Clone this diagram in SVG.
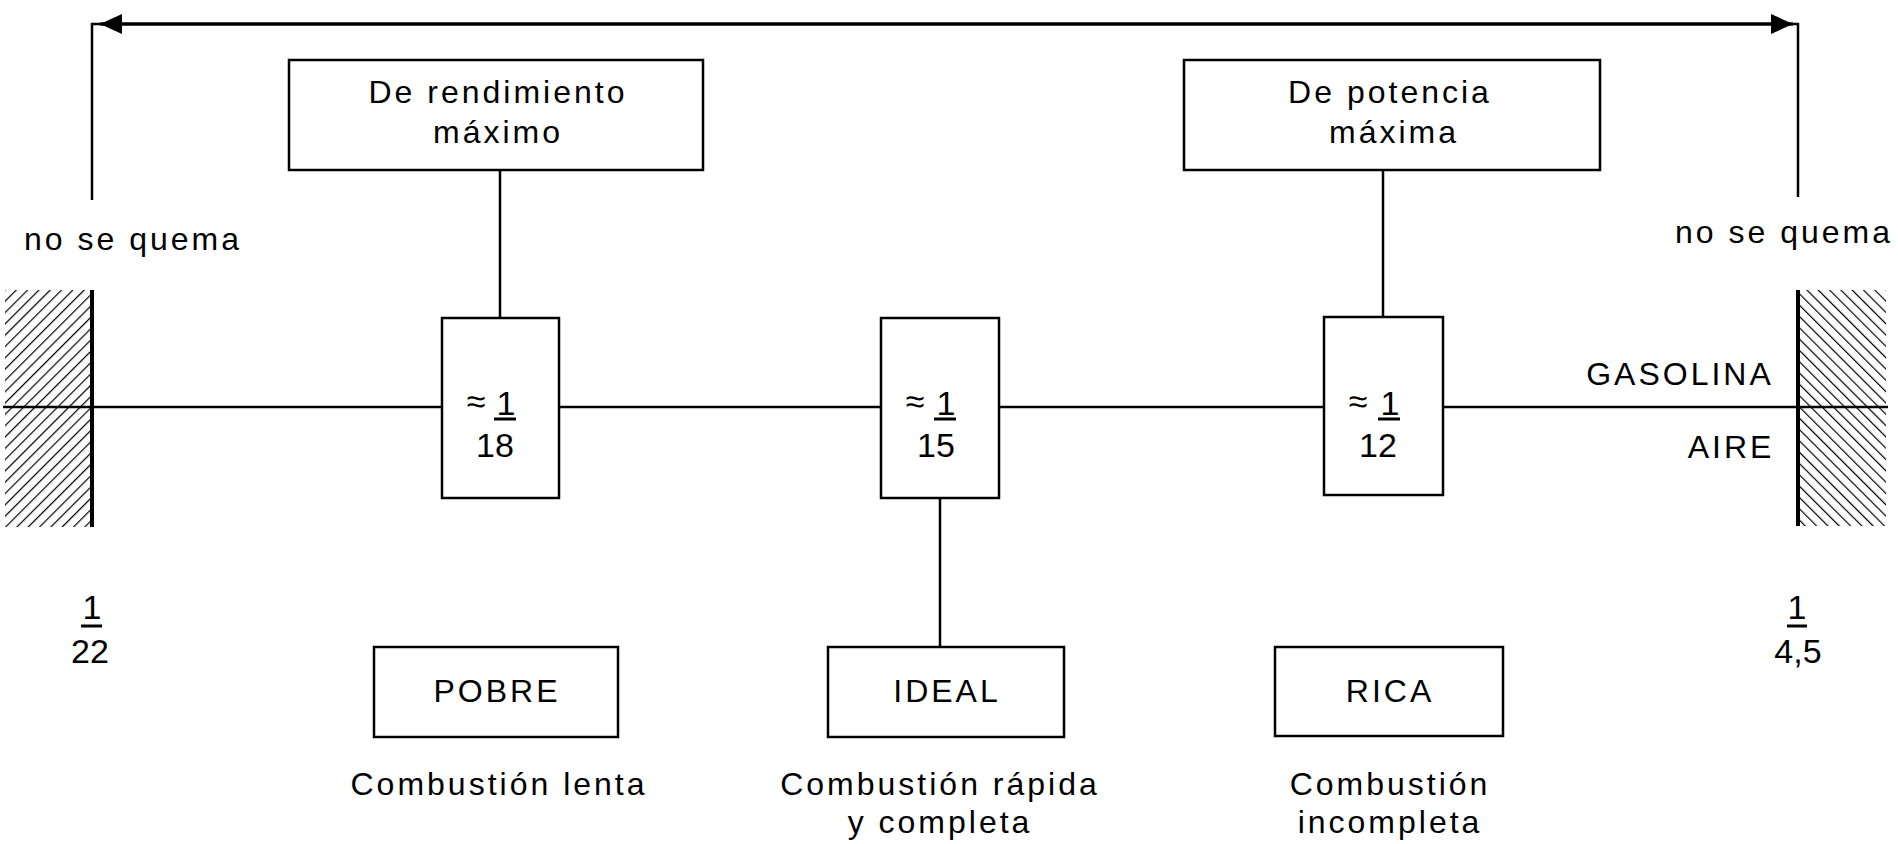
<svg xmlns="http://www.w3.org/2000/svg" width="1898" height="844" viewBox="0 0 1898 844">
<style>
  .t { font-family: "Liberation Sans", Arial, sans-serif; font-size: 32px; letter-spacing: 3px; fill: #000; text-anchor: middle; }
  .n { font-family: "Liberation Sans", Arial, sans-serif; font-size: 34px; fill: #000; text-anchor: middle; }
  .box { fill: #fff; stroke: #000; stroke-width: 2.5; }
  .ln { stroke: #000; stroke-width: 2.5; fill: none; }
  .bar { stroke: #000; stroke-width: 3; }
</style>
<defs>
  <marker id="ah" markerUnits="userSpaceOnUse" markerWidth="24" markerHeight="24" viewBox="0 0 24 24" refX="22" refY="12" orient="auto-start-reverse">
    <path d="M0,2 L22,12 L0,22 z" fill="#000"/>
  </marker>
  <pattern id="hatchL" patternUnits="userSpaceOnUse" width="8" height="8" patternTransform="rotate(45)">
    <line x1="0" y1="0" x2="0" y2="8" stroke="#000" stroke-width="2.4"/>
  </pattern>
  <pattern id="hatchR" patternUnits="userSpaceOnUse" width="8" height="8" patternTransform="rotate(-45)">
    <line x1="0" y1="0" x2="0" y2="8" stroke="#000" stroke-width="2.4"/>
  </pattern>
</defs>
<rect width="1898" height="844" fill="#fff"/>

<!-- hatched limits -->
<g id="limit-left">
  <rect x="5" y="290" width="87" height="237" fill="url(#hatchL)"/>
  <line x1="92" y1="290" x2="92" y2="527" stroke="#000" stroke-width="4"/>
</g>
<g id="limit-right">
  <rect x="1798" y="290" width="88" height="236" fill="url(#hatchR)"/>
  <line x1="1798" y1="290" x2="1798" y2="526" stroke="#000" stroke-width="4"/>
</g>

<!-- connectors -->
<g id="connectors">
  <line class="ln" x1="3" y1="407" x2="1888" y2="407"/>
  <polyline class="ln" points="92,200 92,24 100,24" stroke-width="3"/>
  <polyline class="ln" points="1793,24 1798,24 1798,197" stroke-width="3"/>
  <line x1="100" y1="24" x2="1793" y2="24" stroke="#000" stroke-width="3.5" marker-start="url(#ah)" marker-end="url(#ah)"/>
  <line class="ln" x1="500" y1="170" x2="500" y2="318"/>
  <line class="ln" x1="1383" y1="170" x2="1383" y2="317"/>
  <line class="ln" x1="940" y1="498" x2="940" y2="647" stroke-width="3"/>
</g>

<g id="label-noquema-left"><text class="t" x="133" y="250">no se quema</text></g>
<g id="label-noquema-right"><text class="t" x="1784" y="243">no se quema</text></g>
<g id="label-gasolina"><text class="t" x="1680" y="385">GASOLINA</text></g>
<g id="label-aire"><text class="t" x="1731" y="458">AIRE</text></g>

<g id="node-rendimiento">
  <rect class="box" x="289" y="60" width="414" height="110"/>
  <text class="t" x="498" y="103">De rendimiento</text>
  <text class="t" x="498" y="143">máximo</text>
</g>
<g id="node-potencia">
  <rect class="box" x="1184" y="60" width="416" height="110"/>
  <text class="t" x="1390" y="103">De potencia</text>
  <text class="t" x="1394" y="143">máxima</text>
</g>

<g id="node-18">
  <rect class="box" x="442" y="318" width="117" height="180"/>
  <text class="n" x="476" y="413" font-size="28">≈</text>
  <text class="n" x="506" y="415">1</text>
  <line class="bar" x1="494" y1="419" x2="516" y2="419"/>
  <text class="n" x="495" y="457">18</text>
</g>
<g id="node-15">
  <rect class="box" x="881" y="318" width="118" height="180"/>
  <text class="n" x="915" y="413" font-size="28">≈</text>
  <text class="n" x="946" y="415">1</text>
  <line class="bar" x1="934" y1="419" x2="956" y2="419"/>
  <text class="n" x="936" y="457">15</text>
</g>
<g id="node-12">
  <rect class="box" x="1324" y="317" width="119" height="178"/>
  <text class="n" x="1358" y="413" font-size="28">≈</text>
  <text class="n" x="1390" y="415">1</text>
  <line class="bar" x1="1378" y1="419" x2="1400" y2="419"/>
  <text class="n" x="1378" y="457">12</text>
</g>

<g id="ratio-22">
  <text class="n" x="92" y="619">1</text>
  <line class="bar" x1="81" y1="626" x2="102" y2="626"/>
  <text class="n" x="90" y="663">22</text>
</g>
<g id="ratio-45">
  <text class="n" x="1797" y="619">1</text>
  <line class="bar" x1="1787" y1="626" x2="1807" y2="626"/>
  <text class="n" x="1798" y="663">4,5</text>
</g>

<g id="node-pobre">
  <rect class="box" x="374" y="647" width="244" height="90"/>
  <text class="t" x="497" y="702">POBRE</text>
  <text class="t" x="499" y="795">Combustión lenta</text>
</g>
<g id="node-ideal">
  <rect class="box" x="828" y="647" width="236" height="90"/>
  <text class="t" x="947" y="702">IDEAL</text>
  <text class="t" x="940" y="795">Combustión rápida</text>
  <text class="t" x="940" y="833">y completa</text>
</g>
<g id="node-rica">
  <rect class="box" x="1275" y="647" width="228" height="89"/>
  <text class="t" x="1390" y="702">RICA</text>
  <text class="t" x="1390" y="795">Combustión</text>
  <text class="t" x="1390" y="833">incompleta</text>
</g>
</svg>
